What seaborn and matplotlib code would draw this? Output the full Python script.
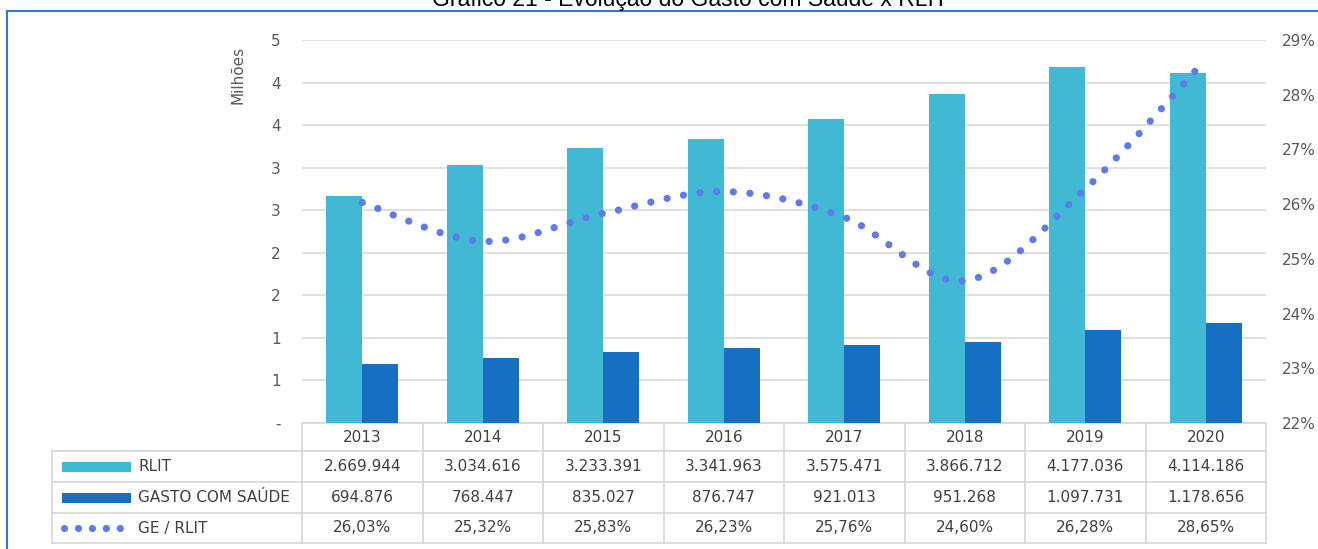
import matplotlib
matplotlib.use("Agg")
import matplotlib.pyplot as plt
import matplotlib.ticker as mticker
import matplotlib.transforms as mtransforms
from matplotlib.path import Path
from matplotlib.patches import PathPatch, Rectangle
import numpy as np
import pandas as pd
import seaborn as sns

ANOS = ["2013", "2014", "2015", "2016", "2017", "2018", "2019", "2020"]
RLIT = [2669944, 3034616, 3233391, 3341963, 3575471, 3866712, 4177036, 4114186]
GASTO = [694876, 768447, 835027, 876747, 921013, 951268, 1097731, 1178656]
GE_RLIT = [26.03, 25.32, 25.83, 26.23, 25.76, 24.60, 26.28, 28.65]

C_RLIT = "#41B9D5"
C_GASTO = "#1570C4"
C_LINE = "#5E7BE8"
C_GRID = "#D9D9D9"
C_TXT = "#595959"
C_TAB = "#404040"
C_FRAME = "#2E7DCB"

W, H = 1318, 549
FS = 11

sns.set_theme(style="white")
plt.rcParams["font.family"] = ["DejaVu Sans"]

fig = plt.figure(figsize=(W / 100, H / 100), dpi=100)

# overlay in pixel coordinates for the table and frame
ov = fig.add_axes([0, 0, 1, 1])
ov.set_xlim(0, W)
ov.set_ylim(H, 0)
ov.axis("off")

ax = fig.add_axes([302 / W, 1 - 423 / H, 964 / W, 383 / H])
ax.patch.set_alpha(0)

df = pd.DataFrame({
    "ano": ANOS * 2,
    "serie": ["RLIT"] * len(ANOS) + ["GASTO COM SAÚDE"] * len(ANOS),
    "valor": [v / 1e6 for v in RLIT + GASTO],
})
sns.barplot(data=df, x="ano", y="valor", hue="serie",
            palette=[C_RLIT, C_GASTO], width=0.6, saturation=1,
            linewidth=0, legend=False, ax=ax)
ax.set_xlim(-0.5, len(ANOS) - 0.5)
ax.set_ylim(0, 4.5)
ax.set_yticks(np.arange(0, 4.51, 0.5))
ax.yaxis.set_major_formatter(
    mticker.FuncFormatter(lambda v, p: "-" if v == 0 else f"{int(np.floor(v + 0.5))}"))
ax.set_xticks([])
ax.set_xlabel("")
ax.set_ylabel("")
ax.grid(axis="y", color=C_GRID, linewidth=1.2)
ax.set_axisbelow(True)
ax.tick_params(axis="y", length=0, pad=15.5, labelsize=FS, labelcolor=C_TXT)
for s in ax.spines.values():
    s.set_visible(False)

# secondary axis: smoothed dotted line
ax2 = ax.twinx()
ax2.set_ylim(0.22, 0.29)
ax2.set_yticks(np.arange(0.22, 0.2901, 0.01))
ax2.yaxis.set_major_formatter(mticker.PercentFormatter(1, decimals=0))
ax2.tick_params(axis="y", length=0, pad=11.5, labelsize=FS, labelcolor=C_TXT)
for s in ax2.spines.values():
    s.set_visible(False)

xs = np.arange(len(ANOS), dtype=float)
ys = np.array(GE_RLIT) / 100
pts = np.column_stack([xs, ys])
ext = np.vstack([pts[0], pts, pts[-1]])
verts = [pts[0]]
codes = [Path.MOVETO]
for i in range(len(pts) - 1):
    p0, p1, p2, p3 = ext[i], ext[i + 1], ext[i + 2], ext[i + 3]
    verts += [p1 + (p2 - p0) / 6, p2 - (p3 - p1) / 6, p2]
    codes += [Path.CURVE4] * 3
ax2.add_patch(PathPatch(Path(verts, codes), fill=False, edgecolor=C_LINE,
                        linewidth=5.2, linestyle=(0, (0.01, 2.3)),
                        capstyle="round", zorder=5))

fig.text(238 / W, 1 - 75 / H, "Milhões", rotation=90, ha="center", va="center",
         color=C_TXT, fontsize=FS)

# data table
blend = mtransforms.blended_transform_factory(ax.transData, ov.transData)
rows_y = [423, 451, 482, 513, 543]
tab_kw = dict(color=C_GRID, linewidth=1.3, zorder=1)
x0, x1 = -0.5, len(ANOS) - 0.5
for k, y in enumerate(rows_y):
    ov.plot([x0, x1], [y, y], transform=blend, **tab_kw)
    if k >= 1:
        ov.plot([52, 302], [y, y], **tab_kw)
for i in range(len(ANOS) + 1):
    ov.plot([i - 0.5, i - 0.5], [rows_y[0], rows_y[-1]], transform=blend, **tab_kw)
ov.plot([52, 52], [rows_y[1], rows_y[-1]], **tab_kw)

fmt_rlit = [f"{v:,}".replace(",", ".") for v in RLIT]
fmt_gasto = [f"{v:,}".replace(",", ".") for v in GASTO]
fmt_pct = [f"{v:.2f}".replace(".", ",") + "%" for v in GE_RLIT]
cells = [ANOS, fmt_rlit, fmt_gasto, fmt_pct]
for r, row in enumerate(cells):
    yc = (rows_y[r] + rows_y[r + 1]) / 2
    for i, txt in enumerate(row):
        ov.text(i, yc, txt, transform=blend, ha="center", va="center",
                fontsize=FS, color=C_TAB)

labels = ["RLIT", "GASTO COM SAÚDE", "GE / RLIT"]
for r, lab in enumerate(labels):
    yc = (rows_y[r + 1] + rows_y[r + 2]) / 2
    ov.text(138, yc, lab, ha="left", va="center", fontsize=FS, color=C_TAB)
ov.add_patch(Rectangle((62, (rows_y[1] + rows_y[2]) / 2 - 5), 69, 10,
                       facecolor=C_RLIT, edgecolor="none"))
ov.add_patch(Rectangle((62, (rows_y[2] + rows_y[3]) / 2 - 5), 69, 10,
                       facecolor=C_GASTO, edgecolor="none"))
yd = (rows_y[3] + rows_y[4]) / 2
ov.plot([64, 120], [yd, yd], color=C_LINE, linewidth=5.2,
        linestyle=(0, (0.01, 1.92)), dash_capstyle="round")

# frame and cut-off title
ov.plot([7, W], [10.5, 10.5], color=C_FRAME, linewidth=1.5)
ov.plot([7, 7], [10.5, H], color=C_FRAME, linewidth=1.5)
fig.text(690 / W, 1 - 6 / H, "Gráfico 21 - Evolução do Gasto com Saúde x RLIT",
         ha="center", va="baseline", fontsize=16.5, color="black",
         family=["Liberation Sans"])

fig.savefig("out.png", dpi=100)
